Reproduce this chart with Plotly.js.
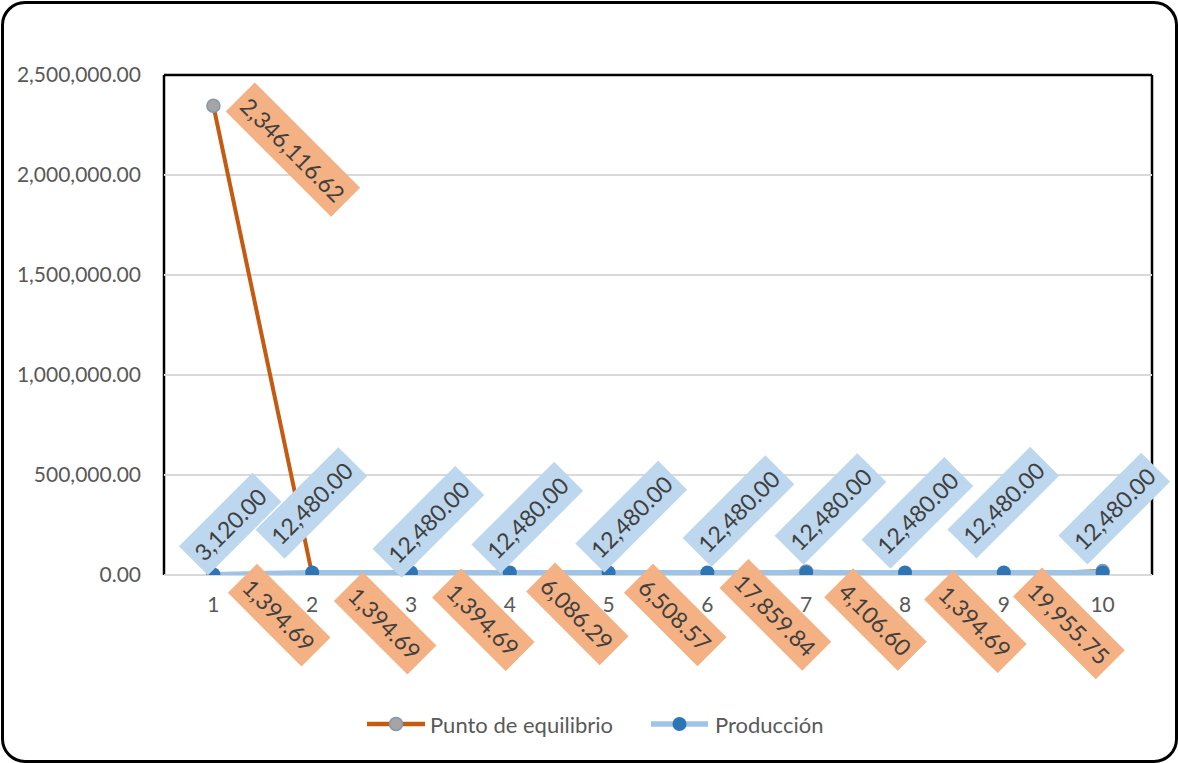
<!DOCTYPE html>
<html>
<head>
<meta charset="utf-8">
<script src="https://cdn.plot.ly/plotly-3.0.1.min.js"></script>
<style>
  html, body { margin: 0; padding: 0; background: #fff; }
  #wrap { position: relative; width: 1178px; height: 763px; }
  #chart { position: absolute; left: 0; top: 0; width: 1178px; height: 763px; }
  #frame {
    position: absolute; left: 1px; top: 1px; width: 1177px; height: 762px;
    box-sizing: border-box; border: 3.5px solid #000; border-radius: 24px;
    pointer-events: none;
  }
</style>
</head>
<body>
<div id="wrap">
  <div id="chart"></div>
  <div id="frame"></div>
</div>
<script>
// Periods 1..10
const periods = [1, 2, 3, 4, 5, 6, 7, 8, 9, 10];

// Punto de equilibrio per period
const puntoEquilibrio = [2346116.62, 1394.69, 1394.69, 1394.69, 6086.29, 6508.57, 17859.84, 4106.60, 1394.69, 19955.75];

// Producción per period
const produccion = [3120.00, 12480.00, 12480.00, 12480.00, 12480.00, 12480.00, 12480.00, 12480.00, 12480.00, 12480.00];

const seriesNames = ['Punto de equilibrio', 'Producción'];

// Label box offsets (pixels, x right / y down) from each point to the label centre
const eqLabelOffsets = [[80, 44], [-33, 40], [-26, 48], [-26, 45], [-31, 40], [-32, 41], [-31, 44], [-30, 45], [-28, 47], [-34, 52]];
const prLabelOffsets = [[17, -50], [-1, -70], [17, -51], [17, -55], [22, -56], [31, -62], [24, -64], [12, -60], [-1, -70], [11, -64]];

const FONT = 'Lato, "Open Sans", sans-serif';
const fmt = v => v.toLocaleString('en-US', {minimumFractionDigits: 2, maximumFractionDigits: 2});

// Series styles (shared by the traces and the legend below the chart)
const styles = [
  {line: '#C55A11', lineWidth: 4, marker: '#A5A5A5', markerSize: 13, markerLine: '#8497B0', markerLineWidth: 1.5},
  {line: '#9DC3E6', lineWidth: 5, marker: '#2E75B6', markerSize: 14, markerLine: '#2E75B6', markerLineWidth: 0}
];

const traces = [puntoEquilibrio, produccion].map((ys, k) => ({
  x: periods, y: ys, name: seriesNames[k],
  type: 'scatter', mode: 'lines+markers',
  line: {color: styles[k].line, width: styles[k].lineWidth},
  marker: {color: styles[k].marker, size: styles[k].markerSize,
           line: {color: styles[k].markerLine, width: styles[k].markerLineWidth}},
  hoverinfo: 'skip', showlegend: false
}));

function labels(xs, ys, offsets, angle, bg) {
  return ys.map((v, i) => ({
    x: xs[i], y: v, xref: 'x', yref: 'y',
    text: fmt(v), showarrow: false,
    xanchor: 'center', yanchor: 'middle',
    xshift: offsets[i][0], yshift: -offsets[i][1],
    textangle: angle, bgcolor: bg, borderpad: 6,
    font: {family: FONT, size: 23, color: '#404040'}
  }));
}

// Plot area geometry (pixels) used to place the legend in paper units
const M = {l: 164, r: 26, t: 75, b: 188};
const W = 1178, H = 763;
const pw = W - M.l - M.r, ph = H - M.t - M.b;
const px = x => (x - M.l) / pw;
const py = y => (H - M.b - y) / ph;

// Legend entries: sample line start, sample line end, text start (pixels)
const legendY = 724;
const legendItems = [[367, 425, 428], [651, 708, 713]];

const legendShapes = [];
const legendTexts = [];
legendItems.forEach((it, k) => {
  const s = styles[k];
  legendShapes.push({type: 'line', xref: 'paper', yref: 'paper',
    x0: px(it[0]), x1: px(it[1]), y0: py(legendY), y1: py(legendY),
    line: {color: s.line, width: s.lineWidth + 0.5}});
  const mid = (it[0] + it[1]) / 2, r = s.markerSize / 2;
  legendShapes.push({type: 'circle', xref: 'paper', yref: 'paper',
    xsizemode: 'pixel', ysizemode: 'pixel',
    xanchor: px(mid), yanchor: py(legendY),
    x0: -r, x1: r, y0: -r, y1: r,
    fillcolor: s.marker, line: {color: s.markerLine, width: s.markerLineWidth}});
  legendTexts.push({xref: 'paper', yref: 'paper', x: px(it[2]), y: py(legendY),
    xanchor: 'left', yanchor: 'middle', showarrow: false, text: seriesNames[k],
    font: {family: FONT, size: 22, color: '#595959'}});
});

const annotations = [].concat(
  labels(periods, puntoEquilibrio, eqLabelOffsets, 45, '#F4B183'),
  labels(periods, produccion, prLabelOffsets, -45, '#BDD7EE'),
  legendTexts
);

const layout = {
  width: W, height: H,
  margin: M,
  paper_bgcolor: '#ffffff', plot_bgcolor: '#ffffff',
  font: {family: FONT, color: '#595959', size: 21},
  showlegend: false,
  xaxis: {
    range: [0.5, 10.5], tickmode: 'array', tickvals: periods, ticktext: periods.map(String),
    showgrid: false, zeroline: false, showline: false, ticks: '',
    ticklabelstandoff: 15,
    tickfont: {family: FONT, size: 21, color: '#595959'}
  },
  yaxis: {
    range: [0, 2500000], dtick: 500000, tickformat: ',.2f',
    showgrid: true, gridcolor: '#D9D9D9', gridwidth: 2,
    zeroline: true, zerolinecolor: '#D9D9D9', zerolinewidth: 2,
    showline: false, ticks: '', ticklabelstandoff: 22,
    tickfont: {family: FONT, size: 21, color: '#595959'}
  },
  shapes: [
    {type: 'line', xref: 'paper', yref: 'paper', x0: 0, y0: 0, x1: 0, y1: 1, line: {color: '#000', width: 2.5}, layer: 'below'},
    {type: 'line', xref: 'paper', yref: 'paper', x0: 0, y0: 1, x1: 1, y1: 1, line: {color: '#000', width: 2.5}, layer: 'below'},
    {type: 'line', xref: 'paper', yref: 'paper', x0: 1, y0: 1, x1: 1, y1: 0, line: {color: '#000', width: 2.5}, layer: 'below'}
  ].concat(legendShapes),
  annotations: annotations
};

Plotly.newPlot('chart', traces, layout, {displayModeBar: false, staticPlot: true});
</script>
</body>
</html>
